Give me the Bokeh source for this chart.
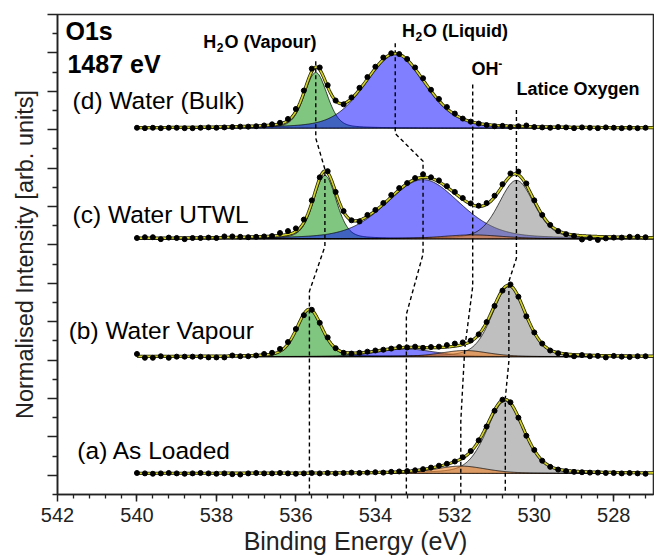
import numpy as np
from bokeh.plotting import figure
from bokeh.models import FixedTicker, Range1d, CustomLabelingPolicy
from bokeh.core.properties import value
from bokeh.embed import file_html
from bokeh.resources import INLINE

# binding-energy grid of the measured spectra (0.2 eV step)
energy = np.round(np.arange(540.0, 527.1, -0.2), 1)

# measured O1s intensities above each spectrum's background
counts_a = [0.01, 0.00, -0.01, 0.00, 0.01, 0.00, -0.01, 0.00, 0.01, 0.00,
            -0.01, 0.00, -0.02, -0.03, 0.00, 0.01, 0.00, 0.00, 0.01, 0.00,
            -0.01, 0.00, 0.01, 0.00, 0.01, 0.00, 0.01, 0.02, 0.01, 0.02,
            0.03, 0.02, 0.04, 0.05, 0.06, 0.08, 0.11, 0.15, 0.20, 0.25,
            0.31, 0.42, 0.58, 0.86, 1.22, 1.63, 1.92, 1.85, 1.45, 0.98,
            0.61, 0.33, 0.17, 0.10, 0.06, 0.04, 0.03, 0.02, 0.02, 0.01,
            0.01, 0.00, 0.01, 0.00, -0.01]
counts_b = [0.07, -0.03, -0.03, 0.01, -0.03, 0.00, 0.00, 0.00, 0.00, -0.02,
            -0.02, -0.02, 0.03, 0.01, 0.01, 0.03, 0.07, 0.10, 0.20, 0.38,
            0.72, 1.08, 1.22, 0.88, 0.50, 0.22, 0.10, 0.08, 0.10, 0.13,
            0.16, 0.18, 0.21, 0.25, 0.24, 0.26, 0.23, 0.25, 0.26, 0.30,
            0.34, 0.37, 0.42, 0.58, 0.90, 1.32, 1.72, 1.88, 1.56, 1.05,
            0.63, 0.34, 0.16, 0.09, 0.04, 0.01, 0.04, 0.01, 0.02, -0.02,
            0.02, 0.00, -0.01, 0.01, 0.01]
counts_c = [0.02, 0.04, 0.04, -0.01, 0.03, 0.02, -0.01, 0.02, 0.02, 0.03,
            0.02, 0.06, 0.06, 0.05, 0.04, 0.05, 0.06, 0.07, 0.15, 0.20,
            0.27, 0.50, 1.00, 1.60, 1.76, 1.22, 0.72, 0.48, 0.45, 0.62,
            0.75, 0.93, 1.14, 1.32, 1.45, 1.58, 1.68, 1.60, 1.52, 1.37,
            1.22, 1.06, 0.92, 0.86, 0.93, 1.12, 1.42, 1.70, 1.75, 1.44,
            1.00, 0.62, 0.36, 0.20, 0.12, 0.07, -0.02, 0.02, -0.03, 0.01,
            0.03, 0.03, 0.05, 0.05, 0.04]
counts_d = [0.01, 0.00, 0.01, 0.00, 0.01, 0.01, 0.00, 0.00, 0.01, 0.02,
            0.01, 0.02, 0.03, 0.04, 0.04, 0.05, 0.07, 0.10, 0.14, 0.24,
            0.50, 0.98, 1.55, 1.58, 1.12, 0.72, 0.62, 0.80, 1.05, 1.33,
            1.60, 1.84, 1.95, 1.93, 1.80, 1.58, 1.30, 1.00, 0.76, 0.55,
            0.38, 0.25, 0.17, 0.12, 0.08, 0.05, 0.06, 0.03, 0.05, 0.07,
            0.03, 0.02, 0.01, 0.03, 0.02, 0.00, 0.02, 0.01, 0.00, 0.02,
            0.01, 0.00, 0.01, 0.00, 0.01]
spectra = [counts_a, counts_b, counts_c, counts_d]

# vertical stacking offsets of spectra (a)..(d)
offsets = [0.05, 3.09, 6.16, 9.04]
spectrum_names = ["(a) As Loaded", "(b) Water Vapour", "(c) Water UTWL", "(d) Water (Bulk)"]

# fitted components for spectra (a)..(d): centre [eV], height, FWHM [eV]
vap_centre = [np.nan, 535.66, 535.27, 535.50]
vap_height = [0.0, 1.22, 1.65, 1.45]
vap_fwhm = [1.0, 0.75, 0.68, 0.68]
liq_centre = [np.nan, 533.22, 532.80, 533.50]
liq_height = [0.0, 0.20, 1.54, 1.93]
liq_fwhm = [1.0, 1.70, 2.20, 1.80]
oh_centre = [531.85, 531.75, 531.55, np.nan]
oh_height = [0.19, 0.16, 0.10, 0.0]
oh_fwhm = [1.50, 1.40, 1.80, 1.0]
lat_centre = [530.73, 530.64, 530.45, np.nan]
lat_height = [1.88, 1.82, 1.52, 0.0]
lat_fwhm = [1.10, 1.00, 1.05, 1.0]

# drawing order: vapour, liquid, lattice, hydroxide
components = [
    (vap_centre, vap_height, vap_fwhm, "#2ca02c", 0.60),
    (liq_centre, liq_height, liq_fwhm, "#0000ff", 0.50),
    (lat_centre, lat_height, lat_fwhm, "#808080", 0.50),
    (oh_centre, oh_height, oh_fwhm, "#f08228", 0.60),
]

FONT = value("Liberation Sans")


def pseudo_voigt(e, centre, height, fwhm, mix=0.3):
    u = (e - centre) / fwhm
    return height * ((1 - mix) * np.exp(-4 * np.log(2) * u ** 2) + mix / (1 + 4 * u ** 2))


p = figure(width=654, height=560, x_range=Range1d(542, 527), y_range=Range1d(-0.5, 12),
           output_backend="svg", toolbar_location=None,
           min_border_left=57, min_border_right=1, min_border_top=14, min_border_bottom=66)
p.background_fill_color = "white"
p.border_fill_color = "white"
p.outline_line_color = "#2a2a2a"
p.outline_line_width = 1.6
p.grid.visible = False

e_fit = np.linspace(540.0, 527.0, 651)

# fitted components and envelopes
envelopes = []
for i, off in enumerate(offsets):
    total = np.zeros_like(e_fit)
    for centre, height, fwhm, color, alpha in components:
        if height[i] <= 0:
            continue
        comp = pseudo_voigt(e_fit, centre[i], height[i], fwhm[i])
        total += comp
        xs = np.concatenate([e_fit, e_fit[::-1]])
        ys = np.concatenate([off + comp, np.full(e_fit.size, off)])
        p.patch(xs, ys, fill_color=color, fill_alpha=alpha,
                line_color="black", line_width=0.8, line_alpha=0.9)
    envelopes.append(off + total)

# guide lines following each component across the spectra (d) -> (a)
guides = [
    ([vap_centre[3], vap_centre[3], vap_centre[2], vap_centre[2], vap_centre[1], vap_centre[1]],
     [10.78, 8.78, 7.97, 5.96, 4.79, -0.5]),
    ([liq_centre[3], liq_centre[3], liq_centre[2], liq_centre[2], liq_centre[1], liq_centre[1]],
     [11.25, 8.90, 8.18, 5.76, 4.19, -0.5]),
    ([oh_centre[2], oh_centre[2], oh_centre[1], oh_centre[0], oh_centre[0]],
     [10.18, 4.92, 3.31, 1.41, -0.5]),
    ([lat_centre[2], lat_centre[2], lat_centre[1], lat_centre[1], lat_centre[0], lat_centre[0]],
     [9.51, 5.65, 5.05, 2.97, 2.00, -0.5]),
]
for gx, gy in guides:
    p.line(gx, gy, line_color="black", line_width=1.4, line_dash="4 3")

# envelope of the fit and measured points
for i, off in enumerate(offsets):
    p.line(e_fit, envelopes[i], line_color="#1a1a00", line_width=3.2)
    p.line(e_fit, envelopes[i], line_color="#d2d22a", line_width=1.7)
    p.scatter(energy, off + np.array(spectra[i]), size=5, color="black")

# spectrum names
p.text(x=[541.50, 541.72, 541.62, 541.62], y=[0.65, 3.76, 6.80, 9.75], text=spectrum_names,
       text_font=FONT, text_font_size=value("24.5px"), text_color="black",
       text_baseline="alphabetic", text_align="left")

# core level / photon energy
p.text(x=[541.80, 541.75], y=[11.57, 10.72], text=["O1s", "1487 eV"],
       text_font=FONT, text_font_size=value("25px"), text_font_style="bold",
       text_color="black", text_baseline="alphabetic", text_align="left")

# component names (H, subscript 2, rest)
p.text(x=[538.33, 533.33, 531.58, 530.45], y=[11.29, 11.58, 10.59, 10.07],
       text=["H", "H", "OH", "Latice Oxygen"],
       text_font=FONT, text_font_size=value("18px"), text_font_style="bold",
       text_color="black", text_baseline="alphabetic", text_align="left")
p.text(x=[537.80, 532.80], y=[11.29, 11.58], text=["O (Vapour)", "O (Liquid)"],
       text_font=FONT, text_font_size=value("18px"), text_font_style="bold",
       text_color="black", text_baseline="alphabetic", text_align="left")
p.text(x=[537.99, 532.99], y=[11.15, 11.44], text=["2", "2"],
       text_font=FONT, text_font_size=value("12px"), text_font_style="bold",
       text_color="black", text_baseline="alphabetic", text_align="left")
p.text(x=[530.91], y=[10.73], text=["-"],
       text_font=FONT, text_font_size=value("12px"), text_font_style="bold",
       text_color="black", text_baseline="alphabetic", text_align="left")

# axes
x_major = [528, 530, 532, 534, 536, 538, 540, 542]
x_minor = [round(527.2 + 0.4 * k, 1) for k in range(37)]
p.xaxis.ticker = FixedTicker(ticks=x_major, minor_ticks=x_minor)
y_major = list(range(0, 13))
y_minor = [k + 0.5 for k in range(-1, 12)]
p.yaxis.ticker = FixedTicker(ticks=y_major, minor_ticks=y_minor)

for ax in (p.xaxis[0], p.yaxis[0]):
    ax.axis_line_width = 1.5
    ax.axis_line_color = "#222222"
    ax.major_tick_line_width = 1.5
    ax.minor_tick_line_width = 1.3
    ax.major_tick_line_color = "#222222"
    ax.minor_tick_line_color = "#222222"
    ax.major_tick_in = 0
    ax.minor_tick_in = 0
    ax.axis_label_text_font = "Liberation Sans"
    ax.axis_label_text_font_style = "normal"
    ax.axis_label_text_color = "#222222"
    ax.major_label_text_font = "Liberation Sans"
    ax.major_label_text_color = "#222222"

p.xaxis.axis_label = "Binding Energy (eV)"
p.xaxis.axis_label_text_font_size = "25px"
p.xaxis.major_tick_out = 7
p.xaxis.minor_tick_out = 4
p.xaxis.major_label_text_font_size = "20px"
p.xaxis.major_label_standoff = 6
p.xaxis.axis_label_standoff = 2

# intensity axis: ticks only, no tick labels
p.yaxis.axis_label = "Normalised Intensity [arb. units]"
p.yaxis.axis_label_text_font_size = "23.5px"
p.yaxis.major_tick_out = 10
p.yaxis.minor_tick_out = 5
p.yaxis.major_label_text_font_size = "0px"
p.yaxis.major_label_standoff = 0
p.yaxis.axis_label_standoff = 10
p.yaxis.major_label_policy = CustomLabelingPolicy(code="""
try { for (const i of Array.from(indices)) { indices.unset(i) } } catch (e) {}
return indices
""")

open("out.html", "w").write(file_html(p, INLINE))
